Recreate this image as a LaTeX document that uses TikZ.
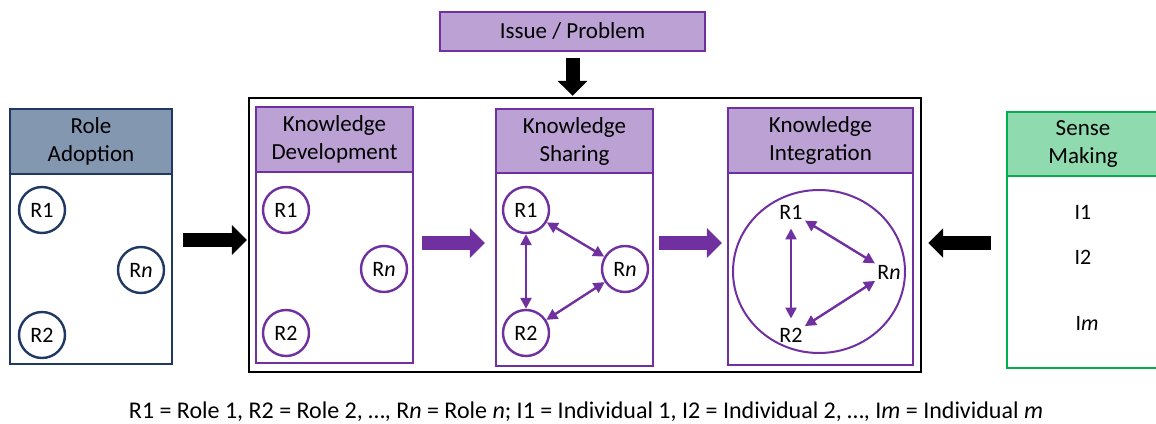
\documentclass[tikz,border=0pt]{standalone}
\usepackage{fontspec}
\setmainfont{Carlito}
\usetikzlibrary{arrows.meta,calc,shapes.geometric}
\definecolor{kpurple}{HTML}{7030A0}
\definecolor{klav}{HTML}{BCA1D4}
\definecolor{knavy}{HTML}{203864}
\definecolor{kslate}{HTML}{8497B0}
\definecolor{kgreen}{HTML}{00B050}
\definecolor{kmint}{HTML}{8FDAAE}
\begin{document}
\begin{tikzpicture}[x=1pt,y=-1pt,
  hdr/.style={draw, line width=2.4pt, minimum height=65pt, align=center,
    font=\fontsize{23}{28}\selectfont, inner sep=0pt},
  panel/.style={draw, line width=2.4pt, fill=white, inner sep=0pt},
  role/.style={circle, draw, line width=2.4pt, minimum size=46pt, inner sep=0pt,
    font=\fontsize{22}{26}\selectfont},
  lbl/.style={circle, inner sep=2pt, font=\fontsize{22}{26}\selectfont},
  twoway/.style={line width=2.4pt, kpurple,
    {Triangle[length=11pt,width=11pt]}-{Triangle[length=11pt,width=11pt]}},
  blk/.style={line width=14pt, -{Triangle[length=15pt,width=29pt]}},
]
\useasboundingbox (0,0) rectangle (1156,423);

% issue box and the enclosing knowledge process frame
\node[draw=kpurple, fill=klav, line width=2pt, minimum width=265pt, minimum height=39pt,
  font=\fontsize{23}{28}\selectfont] (iss) at (572.5,31.5) {Issue / Problem};
\node[draw=black, line width=2.4pt, minimum width=672pt, minimum height=274pt] (big) at (585,235) {};

% role adoption panel
\node[panel, draw=knavy, minimum width=162pt, minimum height=190pt] (rab) at (91,269) {};
\node[hdr, draw=knavy, fill=kslate, minimum width=162pt] (rah) at (91,141.5) {Role\\Adoption};
\node[role, draw=knavy] (ra1) at (42,210) {R1};
\node[role, draw=knavy] (ran) at (141,270) {R\textit{n}};
\node[role, draw=knavy] (ra2) at (42,335) {R2};

% knowledge development panel
\node[panel, draw=kpurple, minimum width=157pt, minimum height=191pt] (kdb) at (334.5,267.5) {};
\node[hdr, draw=kpurple, fill=klav, minimum width=157pt] (kdh) at (334.5,139.5) {Knowledge\\Development};
\node[role, draw=kpurple] (kd1) at (286,210) {R1};
\node[role, draw=kpurple] (kdn) at (384,269) {R\textit{n}};
\node[role, draw=kpurple] (kd2) at (286,333) {R2};

% knowledge sharing panel
\node[panel, draw=kpurple, minimum width=157pt, minimum height=193pt] (ksb) at (574.5,269.5) {};
\node[hdr, draw=kpurple, fill=klav, minimum width=157pt, minimum height=64pt] (ksh) at (574.5,141) {Knowledge\\Sharing};
\node[role, draw=kpurple] (ks1) at (526,210) {R1};
\node[role, draw=kpurple] (ksn) at (625,269) {R\textit{n}};
\node[role, draw=kpurple] (ks2) at (526,333) {R2};
\draw[twoway] (ks1) -- (ks2);
\draw[twoway] (ks1) -- (ksn);
\draw[twoway] (ks2) -- (ksn);

% knowledge integration panel
\node[panel, draw=kpurple, minimum width=185pt, minimum height=192pt] (kib) at (820.5,269) {};
\node[hdr, draw=kpurple, fill=klav, minimum width=185pt] (kih) at (820.5,140.5) {Knowledge\\Integration};
\node[ellipse, draw=kpurple, line width=2pt, minimum width=172pt, minimum height=163pt] (kie) at (819,271.5) {};
\node[lbl] (ki1) at (791,212) {R1};
\node[lbl] (kin) at (889,272) {R\textit{n}};
\node[lbl] (ki2) at (791,335) {R2};
\draw[twoway] (ki1) -- (ki2);
\draw[twoway] (ki1) -- (kin);
\draw[twoway] (ki2) -- (kin);

% sense making panel
\node[panel, draw=kgreen, minimum width=152pt, minimum height=192pt] (smb) at (1083,272) {};
\node[hdr, draw=kgreen, fill=kmint, minimum width=152pt, minimum height=64pt] (smh) at (1083,144) {Sense\\Making};
\node[font=\fontsize{22}{26}\selectfont] (i1) at (1083,212) {I1};
\node[font=\fontsize{22}{26}\selectfont] (i2) at (1083,257) {I2};
\node[font=\fontsize{22}{26}\selectfont] (im) at (1087,323) {I\textit{m}};

% block arrows between the stages
\draw[blk, black, shorten <=6pt, shorten >=1pt] (iss.south) -- (iss.south |- big.north);
\draw[blk, black, shorten <=10pt, shorten >=1pt] (rab.east |- 0,240) -- (big.west |- 0,240);
\draw[blk, kpurple, shorten <=8pt, shorten >=10pt] (kdb.east |- 0,243) -- (ksb.west |- 0,243);
\draw[blk, kpurple, shorten <=5pt, shorten >=5pt] (ksb.east |- 0,243) -- (kib.west |- 0,243);
\draw[blk, black, shorten <=15pt, shorten >=6pt] (smb.west |- 0,243) -- (big.east |- 0,243);

% legend
\node[font=\fontsize{24}{28}\selectfont] (legend) at (586,412)
  {R1 = Role 1, R2 = Role 2, …, R\textit{n} = Role \textit{n}; I1 = Individual 1, I2 = Individual 2, …, I\textit{m} = Individual \textit{m}};
\end{tikzpicture}
\end{document}
